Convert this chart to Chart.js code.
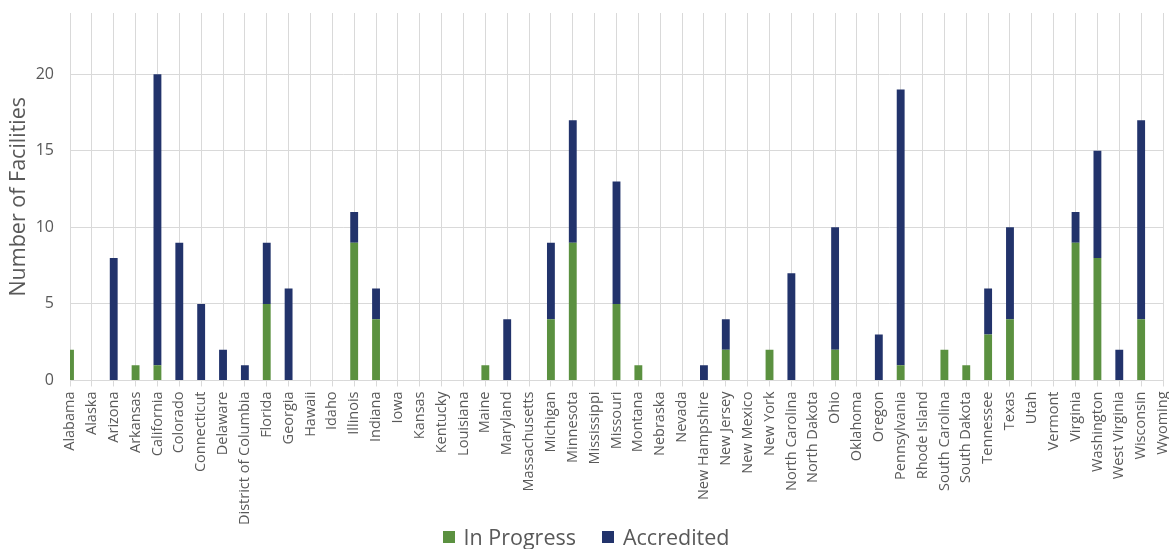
<!DOCTYPE html>
<html>
<head>
<meta charset="utf-8">
<script src="https://cdn.jsdelivr.net/npm/chart.js@4"></script>
<style>
  html, body { margin: 0; padding: 0; background: #fff; }
  #wrap { position: relative; width: 1169px; height: 549px; }
  #legenda {
    position: absolute; left: 0; top: 523px; width: 1169px;
    display: flex; justify-content: center; gap: 26px;
    font-family: 'Open Sans', sans-serif; font-size: 21.5px; color: #595959; line-height: 28px;
    padding-left: 3px; box-sizing: border-box;
  }
  #legenda span.item { display: flex; align-items: center; }
  #legenda span.caixa { display: inline-block; width: 12px; height: 12px; margin-right: 9px; }
</style>
</head>
<body>
<div id="wrap">
  <canvas id="grafico"></canvas>
  <div id="legenda"></div>
</div>
<script>
// facilities per state
const estados = ['Alabama', 'Alaska', 'Arizona', 'Arkansas', 'California', 'Colorado', 'Connecticut', 'Delaware',
  'District of Columbia', 'Florida', 'Georgia', 'Hawaii', 'Idaho', 'Illinois', 'Indiana', 'Iowa', 'Kansas',
  'Kentucky', 'Louisiana', 'Maine', 'Maryland', 'Massachusetts', 'Michigan', 'Minnesota', 'Mississippi',
  'Missouri', 'Montana', 'Nebraska', 'Nevada', 'New Hampshire', 'New Jersey', 'New Mexico', 'New York',
  'North Carolina', 'North Dakota', 'Ohio', 'Oklahoma', 'Oregon', 'Pennsylvania', 'Rhode Island',
  'South Carolina', 'South Dakota', 'Tennessee', 'Texas', 'Utah', 'Vermont', 'Virginia', 'Washington',
  'West Virginia', 'Wisconsin', 'Wyoming'];

const emAndamento = [2, 0, 0, 1, 1, 0, 0, 0, 0, 5, 0, 0, 0, 9, 4, 0, 0, 0, 0, 1, 0, 0, 4, 9, 0,
  5, 1, 0, 0, 0, 2, 0, 2, 0, 0, 2, 0, 0, 1, 0, 2, 1, 3, 4, 0, 0, 9, 8, 0, 4, 0];

const acreditados = [0, 0, 8, 0, 19, 9, 5, 2, 1, 4, 6, 0, 0, 2, 2, 0, 0, 0, 0, 0, 4, 0, 5, 8, 0,
  8, 0, 0, 0, 1, 2, 0, 0, 7, 0, 8, 0, 3, 18, 0, 0, 0, 3, 6, 0, 0, 2, 7, 2, 13, 0];

const yTicks = [0, 5, 10, 15, 20];

const cinza = '#595959';
const fonte = "'Open Sans', sans-serif";

const ctx = document.getElementById('grafico').getContext('2d');
const grafico = new Chart(ctx, {
  type: 'bar',
  data: {
    labels: estados,
    datasets: [
      { label: 'In Progress', data: emAndamento, backgroundColor: '#5B9140' },
      { label: 'Accredited', data: acreditados, backgroundColor: '#22336B' }
    ]
  },
  options: {
    responsive: true,
    maintainAspectRatio: false,
    animation: false,
    layout: { padding: { left: 0, right: 6, top: 13, bottom: 19 } },
    datasets: { bar: { categoryPercentage: 1, barPercentage: 0.36, borderWidth: 0 } },
    plugins: {
      legend: { display: false },
      tooltip: { enabled: false }
    },
    scales: {
      x: {
        stacked: true,
        offset: false,
        afterFit: (eixo) => { eixo.paddingLeft = 0; eixo.paddingRight = 0; },
        grid: { offset: false, color: '#d9d9d9', tickLength: 6 },
        border: { color: '#d9d9d9' },
        ticks: {
          autoSkip: false, maxRotation: 90, minRotation: 90,
          color: cinza, font: { family: fonte, size: 14.5 }, padding: 5
        }
      },
      y: {
        stacked: true,
        min: 0, max: 24,
        afterBuildTicks: (eixo) => { eixo.ticks = yTicks.map(v => ({ value: v })); },
        afterFit: (eixo) => { eixo.width = 70; eixo.paddingTop = 0; eixo.paddingBottom = 0; },
        grid: { color: '#d9d9d9', drawTicks: false },
        border: { display: false },
        ticks: { color: cinza, font: { family: fonte, size: 16 }, padding: 16 },
        title: {
          display: true, text: 'Number of Facilities', color: cinza,
          font: { family: fonte, size: 21.5 }, padding: { top: 6, bottom: 4 }
        }
      }
    }
  }
});

// legend built from the datasets
const legenda = document.getElementById('legenda');
grafico.data.datasets.forEach(ds => {
  const item = document.createElement('span');
  item.className = 'item';
  const caixa = document.createElement('span');
  caixa.className = 'caixa';
  caixa.style.background = ds.backgroundColor;
  item.appendChild(caixa);
  item.appendChild(document.createTextNode(ds.label));
  legenda.appendChild(item);
});
</script>
</body>
</html>
